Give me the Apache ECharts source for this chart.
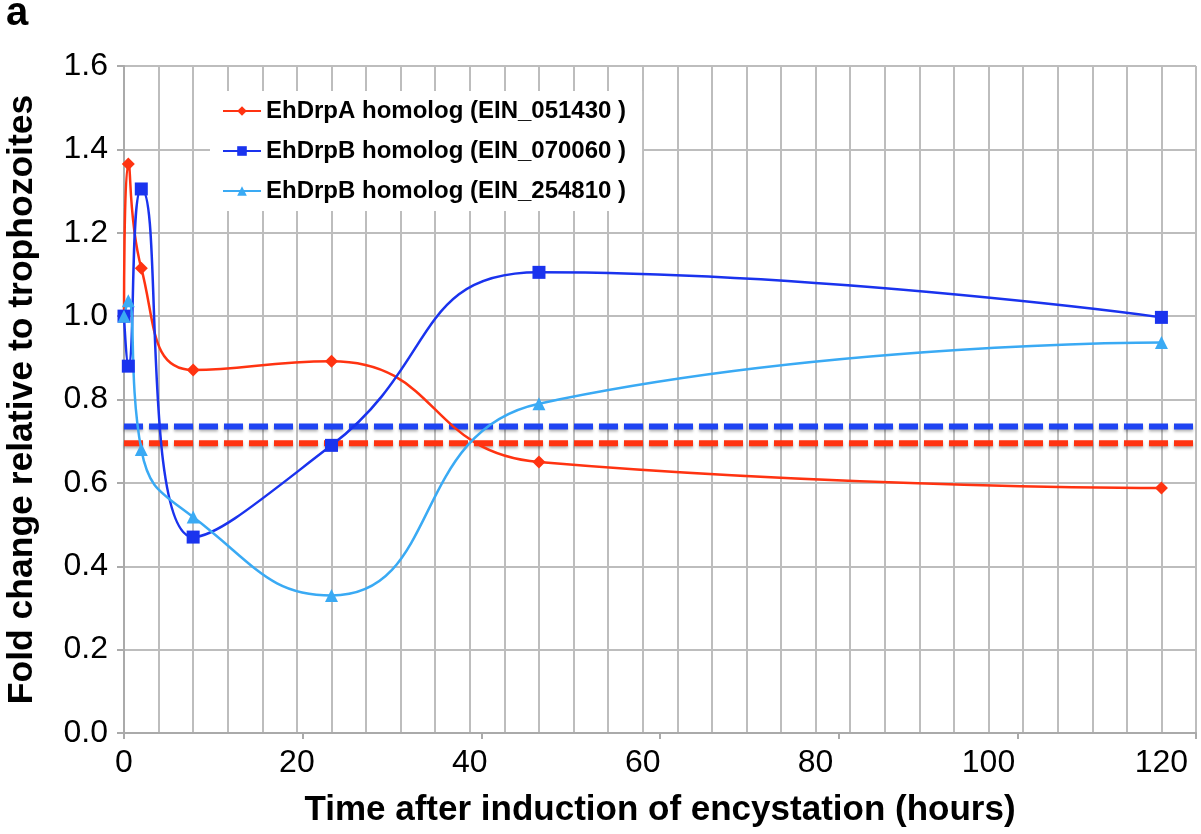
<!DOCTYPE html>
<html>
<head>
<meta charset="utf-8">
<script src="https://cdn.jsdelivr.net/npm/echarts@6/dist/echarts.min.js"></script>
<style>
  html, body { margin: 0; padding: 0; background: #fff; }
  #chart { width: 1201px; height: 834px; }
</style>
</head>
<body>
<div id="chart"></div>
<script>
var hours = [0, 0.5, 2, 8, 24, 48, 120];
var drpA_051430 = [1.0, 1.365, 1.115, 0.871, 0.892, 0.65, 0.588];
var drpB_070060 = [1.0, 0.88, 1.305, 0.47, 0.69, 1.105, 0.997];
var drpB_254810 = [1.0, 1.037, 0.68, 0.518, 0.33, 0.79, 0.937];
var names = ['EhDrpA homolog (EIN_051430 )', 'EhDrpB homolog (EIN_070060 )', 'EhDrpB homolog (EIN_254810 )'];
var thresholdBlue = 0.735;
var thresholdRed = 0.695;
var xRange = [0, 124];

function pairs(xs, ys) {
  var out = [];
  for (var i = 0; i < xs.length; i++) {
    out.push([xs[i], ys[i]]);
  }
  return out;
}

var red = '#ff3311';
var blue = '#1a33ee';
var light = '#3aaaf4';
var font = 'Liberation Sans, Arial, sans-serif';

var chart = echarts.init(document.getElementById('chart'));

var option = {
  backgroundColor: '#fff',
  animation: false,
  textStyle: { fontFamily: font },
  graphic: [{
    type: 'text',
    left: 6,
    top: -6,
    style: { text: 'a', font: 'bold 40px ' + font, fill: '#000' }
  }],
  grid: { left: 124, right: 5, top: 66, bottom: 101, outerBoundsMode: 'none' },
  legend: {
    data: names,
    orient: 'vertical',
    left: 210,
    top: 91,
    itemGap: 16,
    itemWidth: 38,
    itemHeight: 12,
    padding: [8, 16, 8, 12],
    backgroundColor: '#fff',
    textStyle: { fontSize: 24, fontWeight: 'bold', color: '#000' }
  },
  xAxis: [{
    type: 'value',
    min: xRange[0],
    max: xRange[1],
    interval: 4,
    name: 'Time after induction of encystation (hours)',
    nameLocation: 'middle',
    nameGap: 60,
    nameTextStyle: { fontSize: 35, fontWeight: 'bold', color: '#000' },
    axisLine: { show: true, lineStyle: { color: '#aaa', width: 2 } },
    axisTick: { show: false },
    splitLine: { show: true, lineStyle: { color: '#bdbdbd', width: 2 } },
    axisLabel: {
      fontSize: 32, color: '#000', margin: 14,
      formatter: function (v) { return Math.round(v) % 20 === 0 ? String(Math.round(v)) : ''; }
    }
  }, {
    type: 'value',
    position: 'bottom',
    min: xRange[0],
    max: 120,
    interval: 20,
    axisLine: { show: false },
    axisLabel: { show: false },
    splitLine: { show: false },
    axisTick: { show: true, length: 6, lineStyle: { color: '#aaa', width: 2 } }
  }],
  yAxis: {
    type: 'value',
    min: 0,
    max: 1.6,
    interval: 0.2,
    name: 'Fold change relative to trophozoites',
    nameLocation: 'middle',
    nameGap: 84,
    nameTextStyle: { fontSize: 35.5, fontWeight: 'bold', color: '#000' },
    axisLine: { show: true, lineStyle: { color: '#aaa', width: 2 } },
    axisTick: { show: true, length: 7, lineStyle: { color: '#aaa', width: 2 } },
    splitLine: { show: true, lineStyle: { color: '#bdbdbd', width: 2 } },
    axisLabel: {
      fontSize: 32, color: '#000', margin: 16,
      formatter: function (v) { return v.toFixed(1); }
    }
  },
  series: [{
    name: 'thresholdBlue',
    type: 'line',
    data: [[xRange[0], thresholdBlue], [xRange[1], thresholdBlue]],
    symbol: 'none',
    silent: true,
    lineStyle: { color: '#1f44f2', width: 6, type: [19, 6],
      shadowColor: 'rgba(0,0,0,0.3)', shadowBlur: 3, shadowOffsetY: 2 },
    z: 1
  }, {
    name: 'thresholdRed',
    type: 'line',
    data: [[xRange[0], thresholdRed], [xRange[1], thresholdRed]],
    symbol: 'none',
    silent: true,
    lineStyle: { color: red, width: 6, type: [19, 6],
      shadowColor: 'rgba(0,0,0,0.3)', shadowBlur: 3, shadowOffsetY: 2 },
    z: 1
  }, {
    name: names[0],
    type: 'line',
    data: pairs(hours, drpA_051430),
    smooth: 0.5,
    symbol: 'diamond',
    symbolSize: 13,
    itemStyle: { color: red },
    lineStyle: { color: red, width: 2.5 },
    z: 3
  }, {
    name: names[1],
    type: 'line',
    data: pairs(hours, drpB_070060),
    smooth: 0.5,
    symbol: 'rect',
    symbolSize: 13,
    itemStyle: { color: blue },
    lineStyle: { color: blue, width: 2.5 },
    z: 3
  }, {
    name: names[2],
    type: 'line',
    data: pairs(hours, drpB_254810),
    smooth: 0.5,
    symbol: 'triangle',
    symbolSize: 13,
    itemStyle: { color: light },
    lineStyle: { color: light, width: 2.5 },
    z: 3
  }]
};

chart.setOption(option);
</script>
</body>
</html>
